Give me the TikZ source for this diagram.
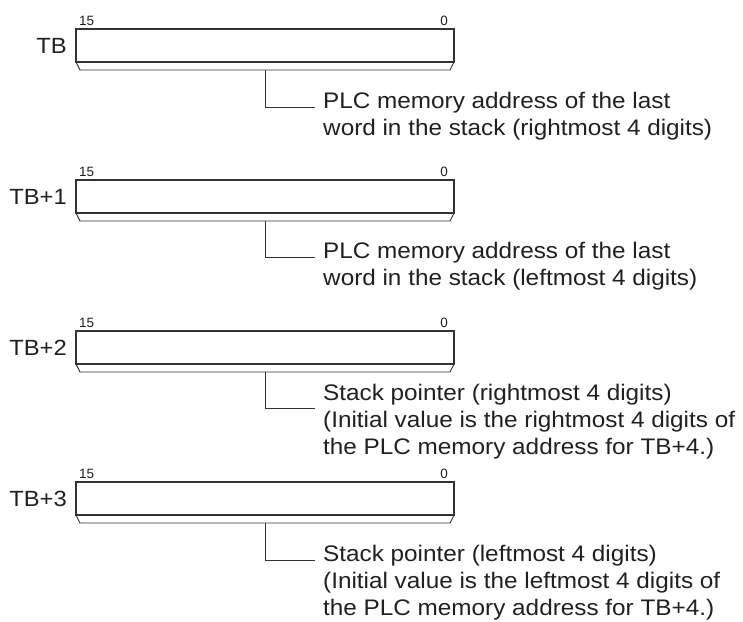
\documentclass[tikz,border=0pt]{standalone}
\usepackage{fontspec}
\setmainfont{Liberation Sans}
\newfontfamily\widefont{Liberation Sans}[FakeStretch=1.08]
\definecolor{ink}{HTML}{231F20}
\definecolor{linecol}{HTML}{333333}
\tikzset{
  wordbox/.style={draw=linecol, line width=1.2pt, minimum width=378pt, minimum height=33pt, inner sep=0pt, outer sep=0pt, anchor=north west},
  bevel/.style={draw=linecol, line width=0.9pt, line join=miter},
  conn/.style={draw=linecol, line width=0.8pt},
  reglbl/.style={font=\widefont\fontsize{22}{26}\selectfont, text=ink, inner sep=0pt, anchor=base east},
  bitlbl/.style={font=\fontsize{13.5}{15}\selectfont, text=ink, inner sep=0pt},
  desc/.style={font=\widefont\fontsize{22.5}{27}\selectfont, text=ink, inner sep=0pt, anchor=base west, align=left}
}
\begin{document}
\begin{tikzpicture}[x=1pt,y=-1pt]
\path[use as bounding box] (0,0) rectangle (743,621);
% ---------- registers ----------
\foreach \i/\yy/\name in {1/29/TB, 2/180/TB+1, 3/331/TB+2, 4/482/TB+3}{
  \node[wordbox] (b\i) at (76,\yy) {};
  \node[reglbl] (r\i) at ([xshift=-9pt,yshift=-24pt]b\i.north west) {\name};
  \node[bitlbl, anchor=base west] (h\i) at ([xshift=3pt,yshift=4pt]b\i.north west) {15};
  \node[bitlbl, anchor=base east] (l\i) at ([xshift=-6pt,yshift=4pt]b\i.north east) {0};
  \draw[bevel] (b\i.south west) -- ([shift={(4,8)}]b\i.south west) -- ([shift={(-4,8)}]b\i.south east) -- (b\i.south east);
  \coordinate (s\i) at ([yshift=-8pt]b\i.south);
}
% ---------- descriptions (base = baseline of the last line) ----------
\coordinate (e1) at (315,107);
\coordinate (e2) at (315,257);
\coordinate (e3) at (315,408);
\coordinate (e4) at (315,560);
\node[desc] (d1) at (323,135) {PLC memory address of the last\\word in the stack (rightmost 4 digits)};
\node[desc] (d2) at (323,285) {PLC memory address of the last\\word in the stack (leftmost 4 digits)};
\node[desc] (d3) at (323,454) {Stack pointer (rightmost 4 digits)\\(Initial value is the rightmost 4 digits of\\the PLC memory address for TB+4.)};
\node[desc] (d4) at (323,615) {Stack pointer (leftmost 4 digits)\\(Initial value is the leftmost 4 digits of\\the PLC memory address for TB+4.)};
\foreach \i in {1,2,3,4}{
  \draw[conn] (s\i) |- (e\i);
}
\end{tikzpicture}
\end{document}
